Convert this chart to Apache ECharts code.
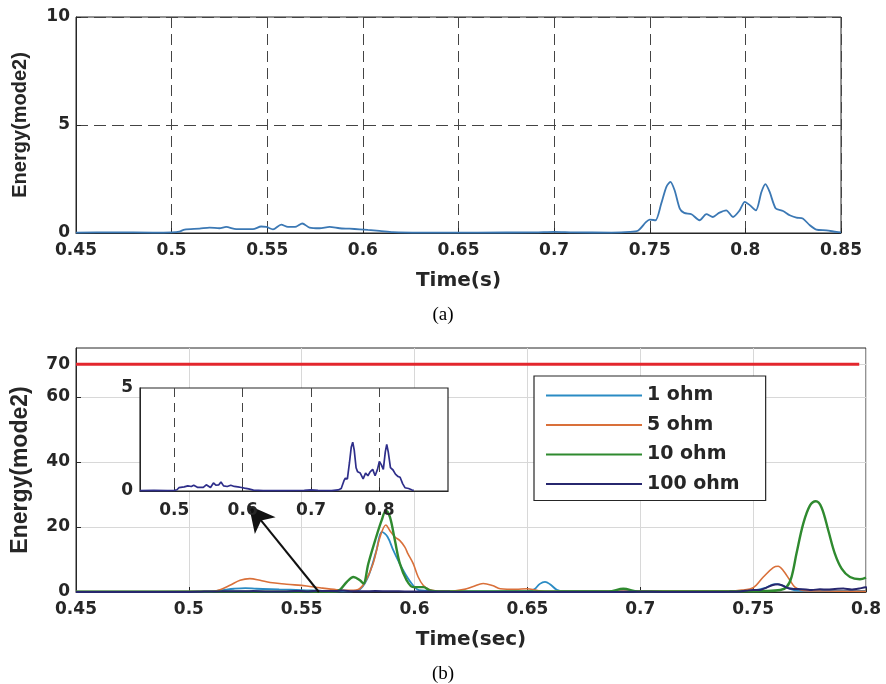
<!DOCTYPE html>
<html><head><meta charset="utf-8">
<script src="https://cdn.jsdelivr.net/npm/echarts@6/dist/echarts.min.js"></script>
<style>html,body{margin:0;padding:0;background:#fff}#c{width:886px;height:684px}</style>
</head><body><div id="c"></div>
<script>
// ---- data (a): mode-2 energy, also plotted as 100 ohm and in the inset ----
const topTimes = [0.45,0.47,0.49,0.5,0.504,0.5068,0.5146,0.5198,0.525,0.5285,0.5338,0.5425,0.5468,0.5495,0.553,0.5573,0.5608,0.5652,0.5683,0.5721,0.5774,0.5826,0.5878,0.593,0.5983,0.6026,0.6087,0.6157,0.63,0.66,0.69,0.7,0.71,0.73,0.7395,0.744,0.748,0.75,0.753,0.756,0.7587,0.7608,0.763,0.7657,0.768,0.7718,0.776,0.7796,0.783,0.7862,0.79,0.7935,0.797,0.7997,0.8023,0.8055,0.8084,0.8105,0.8127,0.8159,0.8197,0.8232,0.8267,0.83,0.8337,0.8371,0.8424,0.8476,0.85];
const topEnergy = [0.02,0.03,0.02,0.03,0.06,0.16,0.2,0.25,0.22,0.28,0.18,0.18,0.3,0.28,0.17,0.39,0.28,0.3,0.44,0.25,0.22,0.28,0.22,0.2,0.17,0.14,0.1,0.04,0.02,0.02,0.03,0.05,0.03,0.02,0.05,0.12,0.5,0.62,0.59,1.36,2.14,2.37,1.98,1.13,0.93,0.87,0.59,0.87,0.74,0.93,1.05,0.74,1.05,1.44,1.29,1.05,1.9,2.26,1.9,1.13,1.02,0.82,0.71,0.67,0.36,0.16,0.12,0.05,0.03];

// ---- data (b) ----
const ohm1Times = [0.45,0.51,0.515,0.52,0.525,0.53,0.54,0.55,0.56,0.57,0.575,0.579,0.583,0.5855,0.588,0.5906,0.595,0.5987,0.602,0.61,0.62,0.65,0.653,0.6555,0.6578,0.66,0.663,0.666,0.68,0.7,0.74,0.75,0.755,0.7597,0.763,0.767,0.77,0.78,0.79,0.8];
const ohm1Energy = [0.1,0.2,0.6,1.0,1.2,1.0,0.8,0.6,0.3,0.2,0.5,4.0,12.5,18.5,17,12.8,6.6,2.6,0.6,0.3,0.2,0.3,0.8,2.5,3.1,2.4,0.7,0.3,0.3,0.2,0.3,0.5,1.2,2.4,2.0,0.8,0.4,0.3,0.3,0.3];

const ohm5Times = [0.45,0.51,0.5138,0.5182,0.5227,0.527,0.5315,0.536,0.5433,0.5522,0.5581,0.5655,0.57,0.575,0.578,0.5816,0.5847,0.5873,0.589,0.5913,0.5935,0.5957,0.5971,0.5994,0.6016,0.6039,0.6068,0.612,0.618,0.622,0.626,0.6304,0.6345,0.638,0.645,0.6497,0.655,0.66,0.7,0.74,0.745,0.75,0.7545,0.7589,0.7611,0.7633,0.7663,0.7685,0.772,0.78,0.8];
const ohm5Energy = [0.1,0.2,0.7,2.05,3.6,4.1,3.6,2.9,2.4,1.85,1.3,0.7,0.5,0.8,3,8.7,16.9,20.6,18.9,16.9,15.8,13.8,11.7,8.7,4.6,2.0,0.7,0.3,0.4,0.8,1.7,2.6,2.0,1.0,0.8,1.0,0.4,0.2,0.3,0.3,0.6,1.3,4.6,7.5,7.9,6.6,3.6,1.5,0.5,0.3,0.2];

const ohm10Times = [0.45,0.55,0.565,0.567,0.57,0.5729,0.5758,0.5773,0.5795,0.5825,0.5854,0.5873,0.5891,0.5913,0.5935,0.5965,0.5994,0.6039,0.6068,0.612,0.65,0.686,0.6925,0.699,0.74,0.755,0.762,0.7648,0.767,0.7692,0.7722,0.7752,0.7778,0.7803,0.7833,0.7862,0.7892,0.7929,0.7973,0.8];
const ohm10Energy = [0.1,0.1,0.2,0.7,3.1,4.6,3.6,2.6,8.7,15.8,22,25,23,15.8,8.7,3.6,1.5,1.5,0.5,0.2,0.2,0.2,1.0,0.2,0.2,0.3,0.6,1.5,4.6,11.8,21,26.6,27.9,26,18.9,11.8,7.2,4.6,3.9,4.4];

const thresholdTimes = [0.45, 0.797];
const thresholdValues = [70, 70];

const arrowTimes = [0.5576, 0.5266];
const arrowValues = [0, 26.6];

const legendNames = ['1 ohm', '5 ohm', '10 ohm', '100 ohm'];
const bottomYTicks = [0, 20, 40, 60, 70];
const insetXTicks = [0.5, 0.6, 0.7, 0.8];

function pairs(t, v) { return t.map((x, i) => [x, v[i]]); }

const SANS = "'Liberation Sans', Arial, sans-serif";
const WIDE = "'DejaVu Sans', 'Liberation Sans', sans-serif";
const INK = '#262626';
const lbl = (fs, fam) => ({ fontFamily: fam || WIDE, fontSize: fs, fontWeight: 'bold', color: INK });

const chart = echarts.init(document.getElementById('c'), null, { renderer: 'canvas' });
chart.setOption({
  animation: false,
  backgroundColor: '#fff',
  title: [
    { text: '(a)', left: 'center', top: 301, textStyle: { fontFamily: "'Liberation Serif', serif", fontSize: 19, fontWeight: 'normal', color: '#000' } },
    { text: '(b)', left: 'center', top: 660, textStyle: { fontFamily: "'Liberation Serif', serif", fontSize: 19, fontWeight: 'normal', color: '#000' } }
  ],
  grid: [
    { left: 76, top: 17, width: 765, height: 216, show: true, borderColor: INK, borderWidth: 1, backgroundColor: 'transparent' },
    { left: 76, top: 348, width: 790, height: 244, show: true, borderColor: INK, borderWidth: 1, backgroundColor: 'transparent' },
    { left: 140, top: 388, width: 308, height: 103, show: true, borderColor: INK, borderWidth: 1.2, backgroundColor: '#fff', z: 5 }
  ],
  legend: {
    data: legendNames, orient: 'vertical', left: 534, top: 376,
    padding: [10, 26, 7, 11], itemWidth: 96, itemHeight: 14, itemGap: 10.5,
    backgroundColor: '#fff', borderColor: INK, borderWidth: 1.2, z: 10,
    itemStyle: { opacity: 0, borderWidth: 0 },
    lineStyle: { width: 2 },
    textStyle: lbl(19)
  },
  xAxis: [
    { gridIndex: 0, type: 'value', min: 0.45, max: 0.85, interval: 0.05,
      name: 'Time(s)', nameLocation: 'middle', nameGap: 38, nameTextStyle: lbl(20),
      axisLine: { lineStyle: { color: INK } }, axisTick: { inside: true, length: 5, lineStyle: { color: INK } },
      axisLabel: Object.assign({ margin: 9 }, lbl(17)),
      splitLine: { show: true, lineStyle: { type: [11, 6], color: '#444', width: 1 } } },
    { gridIndex: 1, type: 'value', min: 0.45, max: 0.8, interval: 0.05,
      name: 'Time(sec)', nameLocation: 'middle', nameGap: 38, nameTextStyle: lbl(20),
      axisLine: { lineStyle: { color: INK } }, axisTick: { inside: true, length: 5, lineStyle: { color: INK } },
      axisLabel: Object.assign({ margin: 9 }, lbl(17)),
      splitLine: { show: true, lineStyle: { type: 'solid', color: '#d8d8d8', width: 1 } } },
    { gridIndex: 2, type: 'value', min: 0.45, max: 0.9, z: 6,
      axisLine: { lineStyle: { color: INK } },
      axisTick: { inside: true, length: 4, customValues: insetXTicks, lineStyle: { color: INK } },
      axisLabel: Object.assign({ margin: 11, customValues: insetXTicks }, lbl(17)),
      splitLine: { show: true, lineStyle: { type: [9, 6], color: '#444', width: 1 } } }
  ],
  yAxis: [
    { gridIndex: 0, type: 'value', min: 0, max: 10, interval: 5,
      name: 'Energy(mode2)', nameLocation: 'middle', nameRotate: 90, nameGap: 46, nameTextStyle: lbl(20, SANS),
      axisLine: { show: true, lineStyle: { color: INK } }, axisTick: { inside: true, length: 5, lineStyle: { color: INK } },
      axisLabel: Object.assign({ margin: 6 }, lbl(17)),
      splitLine: { show: true, lineStyle: { type: [12, 6], color: '#444', width: 1 } } },
    { gridIndex: 1, type: 'value', min: 0, max: 75,
      name: 'Energy(mode2)', nameLocation: 'middle', nameRotate: 90, nameGap: 44, nameTextStyle: lbl(23, SANS),
      axisLine: { show: true, lineStyle: { color: INK } },
      axisTick: { inside: true, length: 5, customValues: bottomYTicks, lineStyle: { color: INK } },
      axisLabel: Object.assign({ margin: 6, customValues: bottomYTicks }, lbl(17)),
      splitLine: { show: true, lineStyle: { type: 'solid', color: '#d8d8d8', width: 1 } } },
    { gridIndex: 2, type: 'value', min: 0, max: 5, interval: 5, z: 6,
      axisLine: { show: true, lineStyle: { color: INK } }, axisTick: { show: false },
      axisLabel: Object.assign({ margin: 7 }, lbl(17)),
      splitLine: { show: false } }
  ],
  series: [
    { type: 'line', xAxisIndex: 0, yAxisIndex: 0, data: pairs(topTimes, topEnergy), symbol: 'none', smooth: 0.25,
      lineStyle: { color: '#3b78b4', width: 1.8 } },
    { type: 'line', name: 'threshold', xAxisIndex: 1, yAxisIndex: 1, data: pairs(thresholdTimes, thresholdValues), symbol: 'none', clip: false,
      lineStyle: { color: '#e3262d', width: 3 }, silent: true },
    { type: 'line', name: '1 ohm', xAxisIndex: 1, yAxisIndex: 1, data: pairs(ohm1Times, ohm1Energy), symbol: 'none', smooth: 0.35,
      itemStyle: { color: '#2a8bc4' }, lineStyle: { color: '#2a8bc4', width: 1.8 } },
    { type: 'line', name: '5 ohm', xAxisIndex: 1, yAxisIndex: 1, data: pairs(ohm5Times, ohm5Energy), symbol: 'none', smooth: 0.35,
      itemStyle: { color: '#d9703a' }, lineStyle: { color: '#d9703a', width: 1.6 } },
    { type: 'line', name: '10 ohm', xAxisIndex: 1, yAxisIndex: 1, data: pairs(ohm10Times, ohm10Energy), symbol: 'none', smooth: 0.35,
      itemStyle: { color: '#2f8a2f' }, lineStyle: { color: '#2f8a2f', width: 2.4 } },
    { type: 'line', name: '100 ohm', xAxisIndex: 1, yAxisIndex: 1, data: pairs(topTimes, topEnergy), symbol: 'none', smooth: 0.2,
      itemStyle: { color: '#27276e' }, lineStyle: { color: '#27276e', width: 2 } },
    { type: 'line', name: 'arrow', xAxisIndex: 1, yAxisIndex: 1, data: [], symbol: 'none', z: 8,
      markLine: { silent: true, animation: false, symbol: ['none', 'arrow'], symbolSize: [20, 26],
        label: { show: false }, lineStyle: { color: '#111', width: 2, type: 'solid' },
        emphasis: { disabled: true },
        data: [[{ coord: [arrowTimes[0], arrowValues[0]] }, { coord: [arrowTimes[1], arrowValues[1]] }]] } },
    { type: 'line', name: 'inset', xAxisIndex: 2, yAxisIndex: 2, data: pairs(topTimes, topEnergy), symbol: 'none', z: 7,
      lineStyle: { color: '#2e2e8a', width: 1.7 } }
  ]
});
</script>
</body></html>
